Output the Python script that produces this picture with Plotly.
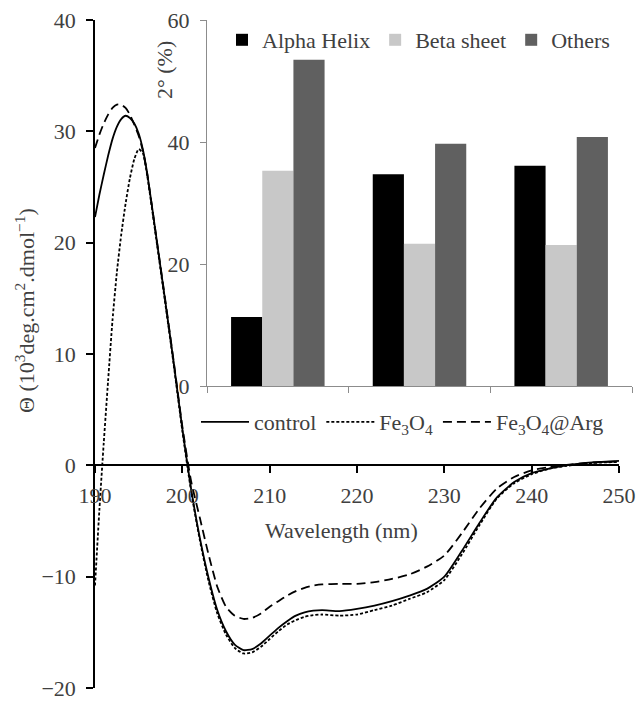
import plotly.graph_objects as go

# CD spectra (mean residue ellipticity, 10^3 deg cm^2 dmol^-1)
wavelength = [190, 190.5, 191, 191.5, 192, 192.5, 193, 193.5, 194, 194.5, 195, 195.5, 196,
              197, 198, 199, 200, 201, 202, 203, 204, 205, 206, 207, 208, 209, 210, 211,
              212, 213, 214, 215, 216, 218, 220, 222, 224, 226, 228, 230, 232, 234, 236,
              238, 240, 242, 244, 246, 248, 250]

control = [22.3, 24.3, 26.1, 27.8, 29.3, 30.4, 31.1, 31.4, 31.2, 30.7, 29.8, 28.3, 26.1,
           20.6, 15.0, 9.3, 3.3, -2.1, -6.5, -10.1, -13.0, -14.9, -16.1, -16.6, -16.5, -16.0,
           -15.3, -14.6, -14.0, -13.5, -13.2, -13.05, -13.0, -13.1, -12.9, -12.6, -12.2,
           -11.7, -11.1, -10.0, -7.7, -5.2, -2.9, -1.5, -0.7, -0.3, 0.0, 0.2, 0.3, 0.4]

fe3o4 = [-10.8, -4.0, 2.0, 7.6, 13.0, 17.3, 20.7, 23.5, 25.8, 27.5, 28.4, 28.0, 25.9,
         20.4, 14.8, 9.1, 3.1, -2.3, -6.7, -10.4, -13.3, -15.2, -16.4, -16.9, -16.8, -16.3,
         -15.6, -14.9, -14.3, -13.9, -13.6, -13.45, -13.4, -13.5, -13.4, -13.0, -12.6,
         -12.0, -11.4, -10.3, -8.0, -5.4, -3.0, -1.6, -0.8, -0.3, -0.05, 0.15, 0.25, 0.3]

fe3o4_arg = [28.5, 29.7, 30.7, 31.5, 32.1, 32.4, 32.4, 32.1, 31.5, 30.6, 29.6, 28.2, 26.1,
             20.6, 15.1, 9.4, 3.5, -1.4, -4.7, -8.0, -10.9, -12.7, -13.5, -13.8, -13.7, -13.3,
             -12.7, -12.2, -11.7, -11.3, -11.0, -10.8, -10.7, -10.65, -10.65, -10.5, -10.2,
             -9.8, -9.1, -8.1, -6.1, -3.9, -2.1, -1.05, -0.45, -0.15, 0.05, 0.2, 0.3, 0.35]

# Secondary structure content (%)
samples = ["control", "Fe3O4", "Fe3O4@Arg"]
alpha_helix = [11.3, 34.7, 36.1]
beta_sheet = [35.3, 23.3, 23.1]
others = [53.5, 39.7, 40.8]

FONT = "Liberation Serif"
TXT = "#404040"

fig = go.Figure()

line_specs = [
    ("control", control, "solid"),
    ("Fe<sub>3</sub>O<sub>4</sub>", fe3o4, "3px,2px"),
    ("Fe<sub>3</sub>O<sub>4</sub>@Arg", fe3o4_arg, "9px,5px"),
]
for name, vals, dash in line_specs:
    fig.add_trace(go.Scatter(
        x=wavelength, y=vals, name=name, mode="lines",
        line=dict(color="black", width=1.8, dash=dash, shape="spline", smoothing=0.6),
        xaxis="x", yaxis="y", legend="legend2",
    ))

bar_specs = [
    ("Alpha Helix", alpha_helix, "#000000"),
    ("Beta sheet", beta_sheet, "#c8c8c8"),
    ("Others", others, "#606060"),
]
for name, vals, color in bar_specs:
    fig.add_trace(go.Bar(
        x=samples, y=vals, name=name, marker=dict(color=color, line=dict(width=0)),
        xaxis="x2", yaxis="y2", legend="legend",
    ))

L, R, T, B = 95, 2, 20, 13
W, H = 642, 701
pw, ph = W - L - R, H - T - B


def px_x(p):
    return (p - L) / pw


def px_y(p):
    return (H - B - p) / ph


def label(text, x, y, angle=0):
    return dict(text=text, x=px_x(x), y=px_y(y), xref="paper", yref="paper",
                xanchor="center", yanchor="middle", textangle=angle, showarrow=False,
                font=dict(family=FONT, size=22, color=TXT))


fig.update_layout(
    width=W, height=H, autosize=False,
    margin=dict(l=L, r=R, t=T, b=B, autoexpand=False),
    paper_bgcolor="white", plot_bgcolor="rgba(0,0,0,0)",
    font=dict(family=FONT, size=22, color=TXT),
    barmode="group", bargap=0.34, bargroupgap=0,
    xaxis=dict(
        domain=[0, px_x(619)], range=[190, 250], tick0=190, dtick=10,
        anchor="free", position=1 / 3, automargin=False,
        showline=True, linecolor="black", linewidth=1.5,
        ticks="outside", ticklen=7, tickwidth=1.5, tickcolor="black",
        ticklabelstandoff=4, ticklabeloverflow="allow",
        showgrid=False, zeroline=False,
        tickfont=dict(family=FONT, size=22, color=TXT),
    ),
    yaxis=dict(
        domain=[0, 1], range=[-20, 40], tick0=-20, dtick=10, automargin=False,
        showline=True, linecolor="black", linewidth=1.5,
        ticks="outside", ticklen=7, tickwidth=1.5, tickcolor="black",
        ticklabelstandoff=6, ticklabeloverflow="allow",
        showgrid=False, zeroline=False,
        tickfont=dict(family=FONT, size=22, color=TXT),
    ),
    xaxis2=dict(
        domain=[px_x(207), px_x(632)], anchor="y2", automargin=False,
        showline=True, linecolor="#8c8c8c", linewidth=1,
        ticks="outside", tickson="boundaries", ticklen=6, tickcolor="#8c8c8c",
        showticklabels=False, showgrid=False, zeroline=False,
    ),
    yaxis2=dict(
        domain=[px_y(386), 1], range=[0, 60], dtick=20, anchor="x2", automargin=False,
        showline=True, linecolor="#8c8c8c", linewidth=1,
        ticks="outside", ticklen=6, tickcolor="#8c8c8c",
        ticklabelstandoff=6, ticklabeloverflow="allow",
        showgrid=False, zeroline=False,
        tickfont=dict(family=FONT, size=22, color=TXT),
    ),
    legend=dict(
        orientation="h", x=px_x(222), y=px_y(40), xanchor="left", yanchor="middle",
        bgcolor="rgba(0,0,0,0)", font=dict(family=FONT, size=22, color=TXT),
        traceorder="normal",
    ),
    legend2=dict(
        orientation="h", x=px_x(196), y=px_y(422), xanchor="left", yanchor="middle",
        bgcolor="rgba(0,0,0,0)", font=dict(family=FONT, size=22, color=TXT),
        itemwidth=48, traceorder="normal",
    ),
    annotations=[
        label("\u0398 (10<sup>3</sup>deg.cm<sup>2</sup>.dmol<sup>\u22121</sup>)", 25, 311, -90),
        label("2\u00b0 (%)", 165, 70, -90),
        label("Wavelength (nm)", 341, 530),
    ],
)

fig.write_html("out.html")
